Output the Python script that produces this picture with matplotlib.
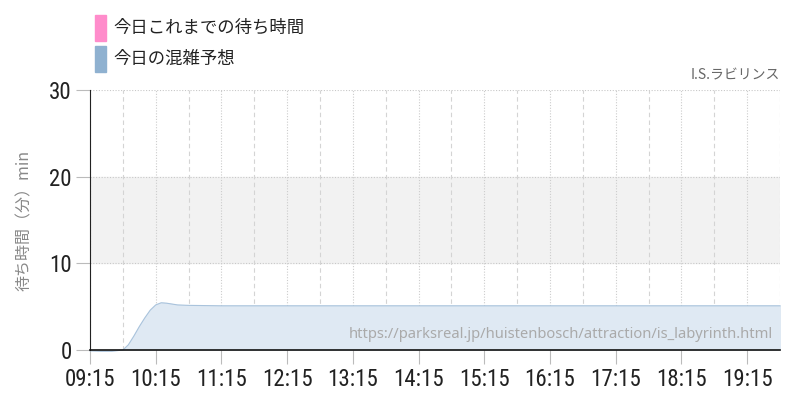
import numpy as np
import matplotlib.pyplot as plt
from matplotlib.patches import Rectangle

plt.rcParams['font.family'] = ['Noto Sans CJK JP', 'DejaVu Sans']

# 予想データ（09:15からの分）
pred_min = [0, 10, 20, 30, 35, 40, 45, 50, 55, 60, 65, 70, 75, 80, 90, 120, 180, 240, 300, 360, 420, 480, 540, 600, 630]
pred_val = [-0.1, -0.15, -0.15, 0.0, 0.6, 1.6, 2.7, 3.7, 4.6, 5.2, 5.45, 5.4, 5.3, 5.2, 5.15, 5.1, 5.1, 5.1, 5.1, 5.1, 5.1, 5.1, 5.1, 5.1, 5.1]
hour_labels = ['09:15', '10:15', '11:15', '12:15', '13:15', '14:15', '15:15', '16:15', '17:15', '18:15', '19:15']
y_ticks = [0, 10, 20, 30]
title = 'I.S.ラビリンス'
url = 'https://parksreal.jp/huistenbosch/attraction/is_labyrinth.html'
legend_names = ['今日これまでの待ち時間', '今日の混雑予想']
legend_colors = ['#ff8ccb', '#8fb1d0']

fig = plt.figure(figsize=(8, 4), dpi=100)
ax = fig.add_axes([0.1125, 0.125, 0.8625, 0.65])

x = np.array(pred_min)
y = np.array(pred_val)
ax.axhspan(10, 20, color='#f2f2f2', zorder=0)
ax.fill_between(x, y, 0, color='#dfe9f3', zorder=1)
ax.plot(x, y, color='#a9c3dc', lw=0.8, zorder=2, clip_on=False)

ax.set_xlim(0, 630)
ax.set_ylim(0, 30)

# グリッド
for v in [10, 20, 30]:
    ax.axhline(v, color='#c8c8c8', lw=0.8, ls=(0, (1, 1.5)), zorder=0.5)
for i in range(len(hour_labels)):
    ax.axvline(i * 60, color='#cccccc', lw=0.8, ls=(0, (1, 1.5)), zorder=0.5)
    ax.axvline(i * 60 + 30, color='#d4d4d4', lw=0.8, ls=(0, (4, 3)), zorder=0.5)

ax.set_xticks([i * 60 for i in range(len(hour_labels))])
ax.set_xticklabels(hour_labels)
ax.set_yticks(y_ticks)
ax.tick_params(axis='both', colors='#bbbbbb', length=10, width=0.8, labelcolor='#222222', labelsize=16.5, pad=3)
for lab in ax.get_xticklabels() + ax.get_yticklabels():
    lab.set_family(['Roboto Condensed', 'DejaVu Sans'])

for s in ['top', 'right']:
    ax.spines[s].set_visible(False)
ax.spines['left'].set_color('#222222')
ax.spines['bottom'].set_color('#111111')
ax.spines['left'].set_linewidth(0.8)
ax.spines['bottom'].set_linewidth(1.2)
ax.spines['bottom'].set_zorder(3)

ax.set_ylabel('待ち時間（分）min', color='#888888', fontsize=11.5, labelpad=12)

fig.text(0.975, 0.795, title, ha='right', va='bottom', color='#666666', fontsize=10)
ax.text(0.99, 0.03, url, transform=ax.transAxes, ha='right', va='bottom', color='#aaaaaa', fontsize=10.6,
        family=['Noto Sans', 'DejaVu Sans'], zorder=4)

# 凡例
for i, (name, c) in enumerate(zip(legend_names, legend_colors)):
    ytop = 1 - (15 + i * 31) / 400
    fig.patches.append(Rectangle((95 / 800, ytop - 26 / 400), 11 / 800, 26 / 400, color=c, transform=fig.transFigure))
    fig.text(113 / 800, ytop - 13 / 400, name, ha='left', va='center', fontsize=12.5, color='#222222')

fig.savefig('out.png')
